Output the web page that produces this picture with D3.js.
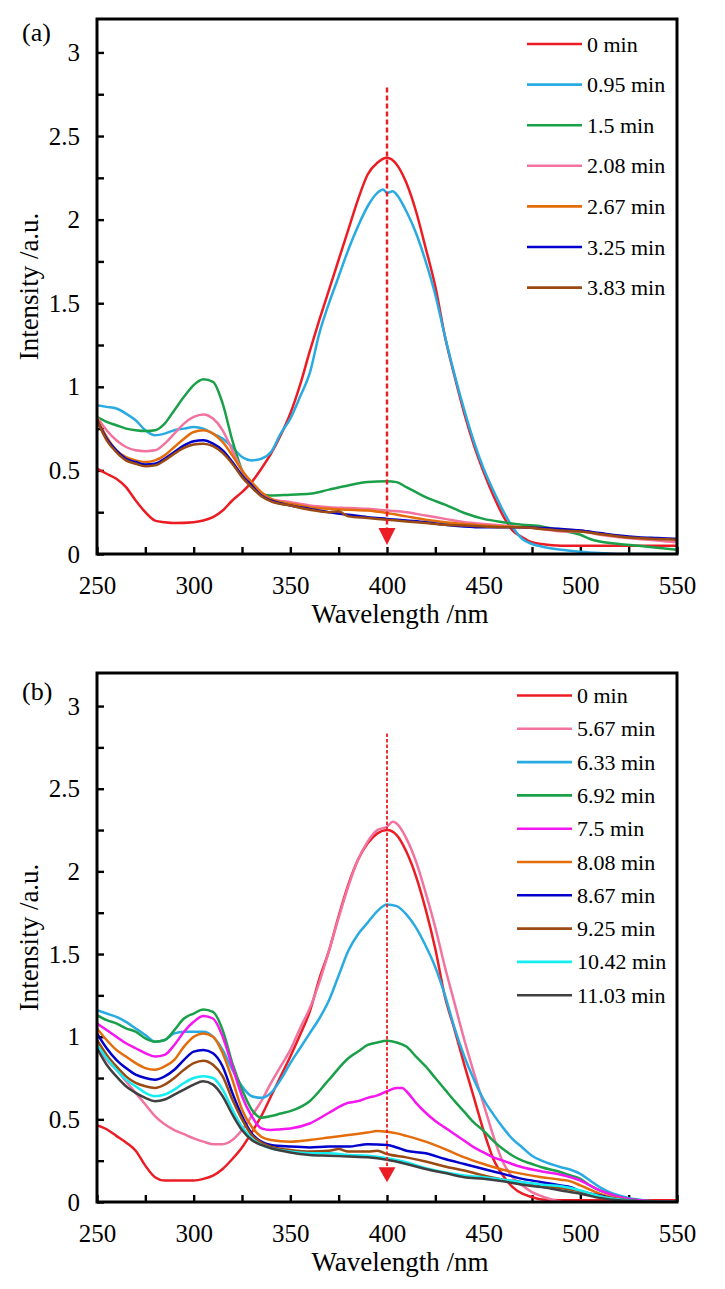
<!DOCTYPE html>
<html>
<head>
<meta charset="utf-8">
<script src="https://cdn.jsdelivr.net/npm/d3@7"></script>
<style>
  html, body { margin: 0; padding: 0; background: #fff; }
  svg { display: block; }
</style>
</head>
<body>
<svg id="chart" width="725" height="1289"></svg>
<script>
// ---------------- DATA ----------------
const xTicks = [250, 300, 350, 400, 450, 500, 550];
const yTickLabels = [0, 0.5, 1, 1.5, 2, 2.5, 3];

// Panel (a)
const labelsA = ["0 min", "0.95 min", "1.5 min", "2.08 min", "2.67 min", "3.25 min", "3.83 min"];
const colorsA = ["#EC1C24", "#29ABE2", "#1BA04A", "#F2739F", "#E46C0A", "#0000CC", "#9A4A12"];

const a0 = [[250,0.51],[255,0.48],[260,0.45],[265,0.40],[270,0.32],[275,0.25],[280,0.20],[285,0.19],[290,0.185],[300,0.19],[305,0.20],[310,0.22],[315,0.26],[320,0.32],[325,0.37],[330,0.43],[335,0.51],[340,0.60],[345,0.71],[350,0.84],[355,1.01],[360,1.21],[365,1.40],[370,1.58],[375,1.76],[380,1.94],[385,2.12],[390,2.27],[395,2.34],[400,2.37],[405,2.33],[410,2.22],[415,2.05],[420,1.83],[425,1.60],[430,1.30],[435,1.06],[440,0.84],[445,0.65],[450,0.49],[455,0.35],[460,0.23],[465,0.14],[470,0.10],[475,0.07],[480,0.06],[490,0.05],[500,0.05],[520,0.05],[550,0.05]];
const a095 = [[250,0.89],[255,0.88],[260,0.87],[265,0.84],[270,0.80],[275,0.74],[280,0.71],[285,0.72],[290,0.74],[295,0.75],[300,0.76],[305,0.75],[310,0.72],[315,0.69],[320,0.64],[325,0.58],[330,0.56],[335,0.57],[340,0.61],[345,0.72],[350,0.81],[355,0.94],[360,1.08],[365,1.32],[370,1.50],[375,1.66],[380,1.82],[385,1.96],[390,2.08],[395,2.16],[398,2.18],[400,2.16],[403,2.17],[405,2.15],[410,2.05],[415,1.92],[420,1.75],[425,1.55],[430,1.30],[435,1.07],[440,0.86],[445,0.67],[450,0.51],[455,0.38],[460,0.26],[465,0.16],[470,0.09],[475,0.06],[480,0.045],[490,0.025],[500,0.014],[510,0.006],[520,0.0],[550,0.0]];
const a15 = [[250,0.82],[255,0.79],[260,0.77],[265,0.75],[270,0.74],[275,0.735],[280,0.74],[285,0.78],[290,0.86],[295,0.94],[300,1.01],[305,1.045],[310,1.03],[315,0.90],[320,0.68],[325,0.50],[330,0.40],[335,0.36],[340,0.35],[350,0.355],[360,0.36],[370,0.385],[380,0.41],[390,0.43],[400,0.435],[405,0.43],[410,0.40],[415,0.37],[420,0.34],[430,0.295],[440,0.245],[450,0.21],[460,0.19],[470,0.175],[480,0.165],[490,0.14],[500,0.115],[505,0.09],[510,0.075],[520,0.06],[530,0.05],[550,0.025]];
const a208 = [[250,0.82],[255,0.74],[260,0.68],[265,0.64],[270,0.62],[275,0.615],[280,0.62],[285,0.66],[290,0.72],[295,0.78],[300,0.82],[305,0.835],[310,0.81],[315,0.74],[320,0.62],[325,0.50],[330,0.42],[335,0.36],[340,0.33],[350,0.31],[360,0.29],[370,0.28],[380,0.275],[390,0.27],[400,0.26],[410,0.25],[420,0.23],[430,0.21],[440,0.19],[450,0.18],[460,0.17],[470,0.16],[480,0.15],[490,0.135],[500,0.135],[510,0.115],[520,0.10],[530,0.09],[540,0.08],[550,0.07]];
const a267 = [[250,0.81],[255,0.70],[260,0.62],[265,0.58],[270,0.56],[275,0.55],[280,0.56],[285,0.59],[290,0.64],[295,0.69],[300,0.73],[305,0.74],[310,0.72],[315,0.67],[320,0.59],[325,0.50],[330,0.43],[335,0.37],[340,0.33],[350,0.30],[360,0.28],[370,0.27],[380,0.265],[390,0.26],[400,0.245],[410,0.225],[420,0.205],[430,0.19],[440,0.18],[450,0.17],[460,0.165],[470,0.16],[480,0.155],[490,0.145],[500,0.14],[510,0.12],[520,0.105],[530,0.095],[540,0.09],[550,0.09]];
const a325 = [[250,0.80],[255,0.69],[260,0.62],[265,0.57],[270,0.55],[275,0.535],[280,0.54],[285,0.57],[290,0.61],[295,0.65],[300,0.675],[305,0.68],[310,0.66],[315,0.62],[320,0.55],[325,0.47],[330,0.41],[335,0.35],[340,0.32],[350,0.29],[360,0.27],[370,0.25],[380,0.235],[390,0.22],[400,0.21],[410,0.20],[420,0.19],[430,0.175],[440,0.165],[450,0.16],[460,0.16],[470,0.16],[480,0.155],[490,0.15],[500,0.14],[510,0.125],[520,0.11],[530,0.10],[540,0.095],[550,0.09]];
const a383 = [[250,0.80],[255,0.68],[260,0.61],[265,0.56],[270,0.54],[275,0.525],[280,0.53],[285,0.56],[290,0.60],[295,0.635],[300,0.655],[305,0.66],[310,0.645],[315,0.605],[320,0.54],[325,0.46],[330,0.40],[335,0.345],[340,0.315],[350,0.29],[360,0.265],[370,0.25],[375,0.255],[380,0.225],[390,0.215],[400,0.205],[410,0.195],[420,0.185],[430,0.175],[440,0.17],[450,0.165],[460,0.16],[470,0.16],[480,0.15],[490,0.14],[500,0.135],[510,0.12],[520,0.105],[530,0.095],[540,0.09],[550,0.085]];
const seriesA = [a0, a095, a15, a208, a267, a325, a383];
const arrowA = { wl: 400, from: 2.79, to: 0.054 };

// Panel (b)
const labelsB = ["0 min", "5.67 min", "6.33 min", "6.92 min", "7.5 min", "8.08 min", "8.67 min", "9.25 min", "10.42 min", "11.03 min"];
const colorsB = ["#EC1C24", "#F2739F", "#29ABE2", "#1BA04A", "#F516F0", "#E46C0A", "#0000CC", "#9A4A12", "#14EEF2", "#404040"];

const b0 = [[250,0.465],[255,0.44],[260,0.40],[265,0.36],[270,0.31],[275,0.22],[280,0.15],[285,0.13],[290,0.13],[300,0.13],[305,0.14],[310,0.16],[315,0.20],[320,0.26],[325,0.33],[330,0.42],[335,0.52],[340,0.64],[345,0.76],[350,0.88],[355,1.01],[360,1.15],[365,1.35],[370,1.52],[375,1.73],[380,1.92],[385,2.07],[390,2.17],[395,2.23],[400,2.25],[405,2.22],[410,2.12],[415,1.97],[420,1.77],[425,1.53],[430,1.24],[435,1.04],[440,0.83],[445,0.63],[450,0.43],[455,0.26],[460,0.16],[465,0.09],[470,0.05],[475,0.03],[480,0.015],[490,0.01],[550,0.01]];
const b567 = [[250,0.93],[255,0.86],[260,0.80],[265,0.73],[270,0.66],[275,0.59],[280,0.52],[285,0.47],[290,0.435],[295,0.41],[300,0.385],[305,0.365],[310,0.35],[315,0.35],[320,0.375],[325,0.435],[330,0.52],[335,0.61],[340,0.72],[345,0.82],[350,0.92],[355,1.05],[360,1.17],[365,1.33],[370,1.52],[375,1.72],[380,1.91],[385,2.07],[390,2.18],[395,2.25],[400,2.27],[403,2.30],[405,2.29],[410,2.20],[415,2.06],[420,1.87],[425,1.66],[430,1.42],[435,1.20],[440,0.98],[445,0.78],[450,0.59],[455,0.40],[460,0.24],[465,0.15],[470,0.10],[475,0.06],[480,0.035],[485,0.015],[490,0.0],[493,-0.02]];
const b633 = [[250,1.16],[255,1.14],[260,1.12],[265,1.09],[270,1.05],[275,1.01],[280,0.97],[285,0.98],[290,1.02],[295,1.03],[300,1.03],[305,1.03],[310,1.00],[315,0.92],[320,0.80],[325,0.70],[330,0.64],[335,0.63],[340,0.66],[345,0.74],[350,0.84],[355,0.93],[360,1.02],[365,1.11],[370,1.22],[375,1.37],[380,1.52],[385,1.62],[390,1.69],[395,1.76],[400,1.80],[405,1.79],[410,1.74],[415,1.66],[420,1.55],[425,1.42],[430,1.25],[435,1.05],[440,0.88],[445,0.74],[450,0.62],[455,0.53],[460,0.45],[465,0.38],[470,0.33],[475,0.28],[480,0.25],[490,0.21],[495,0.195],[500,0.17],[505,0.13],[510,0.09],[515,0.06],[520,0.04],[525,0.025],[530,0.015],[540,0.0],[550,0.0]];
const b692 = [[250,1.13],[255,1.10],[260,1.08],[265,1.05],[270,1.03],[275,0.99],[280,0.97],[285,0.98],[290,1.04],[295,1.11],[300,1.14],[305,1.165],[310,1.15],[315,1.04],[320,0.84],[325,0.68],[330,0.56],[335,0.51],[340,0.52],[345,0.535],[350,0.55],[360,0.61],[370,0.74],[380,0.87],[385,0.91],[390,0.95],[395,0.965],[400,0.975],[405,0.965],[410,0.94],[415,0.88],[420,0.82],[425,0.75],[430,0.68],[435,0.61],[440,0.545],[445,0.48],[450,0.43],[455,0.37],[460,0.32],[465,0.28],[470,0.25],[475,0.23],[480,0.21],[490,0.18],[495,0.16],[500,0.14],[505,0.10],[510,0.07],[515,0.05],[520,0.03],[530,0.01],[550,0.0]];
const b75 = [[250,1.08],[255,1.04],[260,1.00],[265,0.96],[270,0.93],[275,0.90],[280,0.88],[285,0.89],[290,0.95],[295,1.03],[300,1.09],[305,1.125],[310,1.11],[315,1.00],[320,0.82],[325,0.64],[330,0.52],[335,0.445],[340,0.435],[345,0.44],[350,0.445],[360,0.475],[370,0.54],[380,0.60],[385,0.61],[390,0.63],[395,0.645],[400,0.67],[405,0.69],[408,0.69],[410,0.67],[415,0.60],[420,0.54],[425,0.49],[430,0.45],[435,0.41],[440,0.37],[445,0.33],[450,0.30],[455,0.27],[460,0.25],[470,0.21],[480,0.185],[490,0.165],[495,0.15],[500,0.13],[505,0.10],[510,0.07],[515,0.05],[520,0.03],[530,0.01],[550,0.0]];
const b808 = [[250,1.05],[255,0.98],[260,0.92],[265,0.88],[270,0.84],[275,0.81],[280,0.80],[285,0.82],[290,0.86],[295,0.94],[300,1.00],[305,1.02],[310,1.00],[315,0.90],[320,0.74],[325,0.56],[330,0.455],[335,0.395],[340,0.375],[350,0.365],[360,0.375],[370,0.39],[380,0.405],[390,0.42],[395,0.43],[400,0.425],[405,0.415],[410,0.40],[420,0.365],[430,0.32],[440,0.27],[450,0.23],[460,0.195],[470,0.17],[480,0.15],[490,0.135],[495,0.125],[500,0.10],[505,0.075],[510,0.05],[520,0.02],[530,0.005],[550,0.0]];
const b867 = [[250,1.02],[255,0.93],[260,0.86],[265,0.81],[270,0.77],[275,0.75],[280,0.74],[285,0.76],[290,0.80],[295,0.86],[300,0.91],[305,0.92],[310,0.90],[315,0.82],[320,0.66],[325,0.52],[330,0.415],[335,0.365],[340,0.345],[350,0.335],[360,0.33],[370,0.335],[380,0.335],[390,0.35],[400,0.345],[405,0.33],[410,0.31],[420,0.295],[430,0.26],[440,0.23],[450,0.20],[460,0.17],[470,0.14],[480,0.12],[490,0.10],[495,0.09],[500,0.065],[510,0.04],[520,0.015],[530,0.005],[550,0.0]];
const b925 = [[250,0.98],[255,0.89],[260,0.82],[265,0.76],[270,0.72],[275,0.70],[280,0.69],[285,0.71],[290,0.75],[295,0.80],[300,0.84],[305,0.855],[310,0.83],[315,0.76],[320,0.62],[325,0.50],[330,0.405],[335,0.36],[340,0.335],[350,0.315],[360,0.305],[370,0.31],[375,0.32],[380,0.305],[390,0.305],[395,0.31],[400,0.29],[410,0.27],[420,0.245],[430,0.215],[440,0.19],[450,0.16],[460,0.135],[470,0.12],[480,0.10],[490,0.085],[500,0.065],[510,0.035],[520,0.015],[530,0.005],[550,0.0]];
const b1042 = [[250,0.95],[255,0.87],[260,0.80],[265,0.74],[270,0.70],[275,0.66],[280,0.64],[285,0.65],[290,0.68],[295,0.72],[300,0.75],[305,0.76],[310,0.75],[315,0.68],[320,0.56],[325,0.455],[330,0.385],[335,0.345],[340,0.325],[350,0.305],[360,0.295],[370,0.295],[380,0.285],[390,0.28],[400,0.265],[410,0.24],[420,0.205],[430,0.18],[440,0.16],[450,0.15],[460,0.135],[470,0.12],[480,0.105],[490,0.095],[500,0.07],[510,0.035],[520,0.015],[530,0.005],[550,0.0]];
const b1103 = [[250,0.93],[255,0.83],[260,0.76],[265,0.70],[270,0.66],[275,0.63],[280,0.61],[285,0.62],[290,0.65],[295,0.68],[300,0.71],[305,0.73],[310,0.71],[315,0.64],[320,0.53],[325,0.435],[330,0.375],[335,0.345],[340,0.325],[350,0.30],[360,0.285],[370,0.28],[380,0.275],[390,0.27],[400,0.255],[410,0.23],[420,0.20],[430,0.175],[440,0.15],[450,0.14],[460,0.125],[470,0.105],[480,0.09],[490,0.07],[500,0.05],[510,0.025],[520,0.01],[530,0.005],[550,0.0]];
const seriesB = [b0, b567, b633, b692, b75, b808, b867, b925, b1042, b1103];
const arrowB = { wl: 400, from: 2.834, to: 0.12 };

// ---------------- DRAW ----------------
const FONT = '"Liberation Serif"';
const svg = d3.select("#chart");
svg.append("rect").attr("width", 725).attr("height", 1289).attr("fill", "#fff");

function addText(sel, size) {
  return sel.attr("font-size", size).attr("fill", "#000")
    .attr("font-family", "Liberation Serif").style("font-family", FONT);
}

function drawPanel(cfg) {
  const x = d3.scaleLinear().domain([250, 550]).range([cfg.left, cfg.right]);
  const y = d3.scaleLinear().domain([0, 3.2]).range([cfg.bottom, cfg.top]);
  const g = svg.append("g");
  const clipId = "clip" + cfg.id;
  g.append("clipPath").attr("id", clipId).append("rect")
    .attr("x", cfg.left).attr("y", cfg.top)
    .attr("width", cfg.right - cfg.left).attr("height", cfg.bottom - cfg.top);

  // axes
  const fmt = d => yTickLabels.some(v => Math.abs(v - d) < 1e-9) ? String(+d.toFixed(2)) : "";
  const yAxis = d3.axisLeft(y).tickValues(d3.range(0, 3.01, 0.25))
    .tickSizeInner(-7).tickSizeOuter(0).tickPadding(17).tickFormat(fmt);
  const xAxis = d3.axisBottom(x).tickValues(d3.range(250, 551, 25))
    .tickSizeInner(-7).tickSizeOuter(0).tickPadding(22)
    .tickFormat(d => xTicks.includes(d) ? String(d) : "");

  const ya = g.append("g").attr("transform", `translate(${cfg.left},0)`).call(yAxis);
  const xa = g.append("g").attr("transform", `translate(0,${cfg.bottom})`).call(xAxis);
  [ya, xa].forEach(a => {
    a.attr("font-family", "Liberation Serif").attr("font-size", 25);
    a.select(".domain").remove();
    a.selectAll(".tick line").attr("stroke", "#000").attr("stroke-width", 2.4);
    addText(a.selectAll(".tick text"), 25);
  });

  // series
  const line = d3.line().x(d => x(d[0])).y(d => y(d[1])).curve(d3.curveMonotoneX);
  const lg = g.append("g").attr("clip-path", `url(#${clipId})`);
  cfg.series.forEach((s, i) => {
    lg.append("path").attr("d", line(s)).attr("fill", "none")
      .attr("stroke", cfg.colors[i]).attr("stroke-width", 2.5)
      .attr("stroke-linejoin", "round").attr("stroke-linecap", "round");
  });

  // dashed arrow
  const ax = x(cfg.arrow.wl);
  const tipY = y(cfg.arrow.to);
  const baseY = tipY - cfg.headH;
  g.append("line").attr("x1", ax).attr("x2", ax)
    .attr("y1", y(cfg.arrow.from)).attr("y2", baseY + 1)
    .attr("stroke", "#EC1C24").attr("stroke-width", cfg.dashW)
    .attr("stroke-dasharray", cfg.dash);
  g.append("path")
    .attr("d", `M${ax - cfg.headW / 2},${baseY}L${ax + cfg.headW / 2},${baseY}L${ax},${tipY}Z`)
    .attr("fill", "#EC1C24");

  // frame
  g.append("rect").attr("x", cfg.left).attr("y", cfg.top)
    .attr("width", cfg.right - cfg.left).attr("height", cfg.bottom - cfg.top)
    .attr("fill", "none").attr("stroke", "#000").attr("stroke-width", 3);

  // legend
  cfg.labels.forEach((lab, i) => {
    const ly = cfg.legTop + i * cfg.legStep;
    g.append("line").attr("x1", cfg.legX1).attr("x2", cfg.legX2)
      .attr("y1", ly).attr("y2", ly)
      .attr("stroke", cfg.colors[i]).attr("stroke-width", 2.6);
    addText(g.append("text").attr("x", cfg.legX2 + 5).attr("y", ly + 7.5), 22).text(lab);
  });

  // titles
  addText(g.append("text").attr("x", 400).attr("y", cfg.bottom + 69)
    .attr("text-anchor", "middle"), 27).text("Wavelength /nm");
  addText(g.append("text")
    .attr("transform", `translate(38,${(cfg.top + cfg.bottom) / 2}) rotate(-90)`)
    .attr("text-anchor", "middle"), 27).text("Intensity /a.u.");
  addText(g.append("text").attr("x", 22).attr("y", cfg.top + cfg.panelLabelDy), 26).text(cfg.panelLabel);
}

drawPanel({
  id: "A", left: 97, right: 677, top: 19, bottom: 554,
  series: seriesA, colors: colorsA, labels: labelsA, arrow: arrowA,
  legTop: 44, legStep: 40.6, legX1: 527, legX2: 582,
  dash: "5,3", dashW: 2.4, headW: 17, headH: 17,
  panelLabel: "(a)", panelLabelDy: 22
});

drawPanel({
  id: "B", left: 97, right: 677, top: 673, bottom: 1202,
  series: seriesB, colors: colorsB, labels: labelsB, arrow: arrowB,
  legTop: 695.5, legStep: 33.3, legX1: 517, legX2: 572,
  dash: "3.5,2", dashW: 1.8, headW: 17, headH: 15,
  panelLabel: "(b)", panelLabelDy: 27
});
</script>
</body>
</html>
